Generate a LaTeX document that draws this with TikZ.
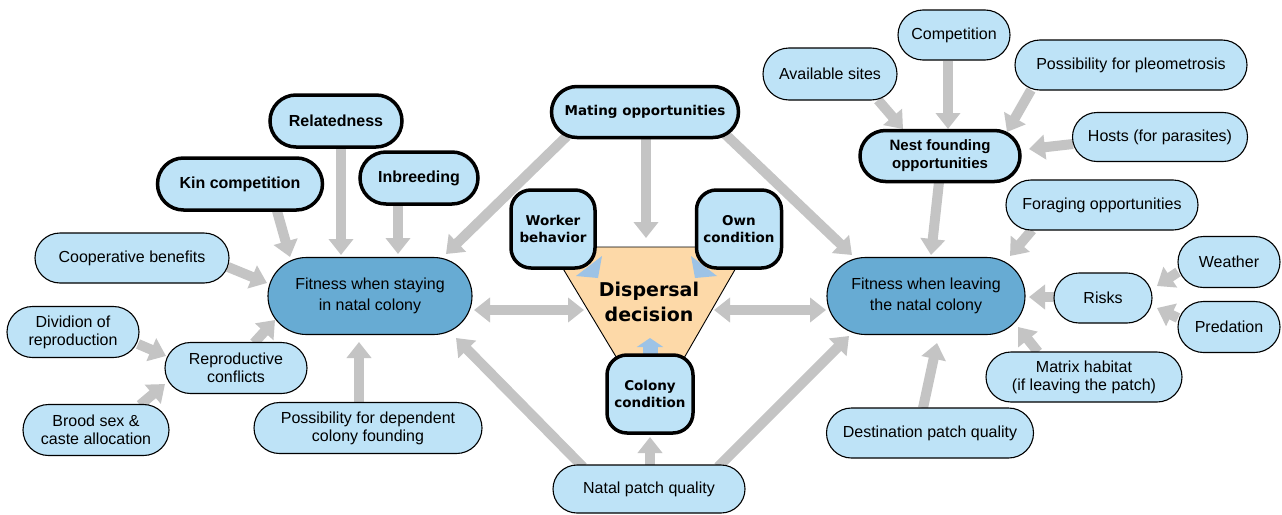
\documentclass[tikz,border=0pt]{standalone}
\usepackage{fontspec}
\setmainfont{Liberation Sans}
\newfontfamily\dejavu{DejaVu Sans}
\usetikzlibrary{shapes.misc,arrows.meta,calc}
\pgfdeclarelayer{bg}\pgfdeclarelayer{mid}\pgfsetlayers{bg,mid,main}
\definecolor{lb}{RGB}{190,227,247}
\definecolor{db}{RGB}{103,171,211}
\definecolor{org}{RGB}{253,217,168}
\definecolor{gr}{RGB}{196,196,196}
\definecolor{bl}{RGB}{157,195,230}
\begin{document}
\begin{tikzpicture}[x=1pt,y=-1pt,
  base/.style={rounded rectangle, draw=black, fill=lb, line width=1.1pt, inner sep=0pt, align=center, font=\fontsize{16}{18}\selectfont},
  bbox/.style={base, line width=3.5pt, font=\fontsize{16}{18}\selectfont\bfseries},
  mbox/.style={base, line width=3.5pt, font=\dejavu\bfseries\fontsize{13.5}{17}\selectfont},
  fitbox/.style={base, fill=db, font=\fontsize{16}{21}\selectfont},
  vbox/.style={rectangle, rounded corners=20pt, draw=black, fill=lb, line width=3.5pt, inner sep=0pt, align=center, font=\dejavu\bfseries\fontsize{13.5}{17}\selectfont},
  garrow/.style={draw=gr, line width=10pt, -{Triangle[width=24pt,length=16pt]}},
  gdouble/.style={draw=gr, line width=10pt, {Triangle[width=24pt,length=16pt]}-{Triangle[width=24pt,length=16pt]}},
  barrow/.style={draw=bl, line width=15pt, -{Triangle[width=26pt,length=9pt]}}
]
\useasboundingbox (0,0) rectangle (1282,514);
% left
\node[bbox, minimum width=132, minimum height=52] (rel) at (336,121) {Relatedness};
\node[bbox, minimum width=165, minimum height=52] (kin) at (240,184) {Kin competition};
\node[bbox, minimum width=118, minimum height=52] (inb) at (419,178) {Inbreeding};
\node[base, minimum width=194, minimum height=50] (coop) at (132,258) {Cooperative benefits};
\node[fitbox, minimum width=204, minimum height=77] (fitL) at (370,296) {Fitness when staying\\in natal colony};
\node[base, minimum width=132, minimum height=51] (div) at (73,332) {Dividion of\\reproduction};
\node[base, minimum width=142, minimum height=51] (rep) at (236,368) {Reproductive\\conflicts};
\node[base, minimum width=146, minimum height=51] (brood) at (96,430) {Brood sex \&\\caste allocation};
\node[base, minimum width=228, minimum height=51] (dep) at (368,428) {Possibility for dependent\\colony founding};
% centre
\node[mbox, minimum width=187, minimum height=51] (mat) at (645,112) {Mating opportunities};
\node[vbox, minimum width=84, minimum height=78] (work) at (553,229) {Worker\\behavior};
\node[vbox, minimum width=85, minimum height=78] (own) at (739,229) {Own\\condition};
\node[font=\dejavu\bfseries\fontsize{19}{25}\selectfont, align=center, inner sep=0pt] (disp) at (649,302) {Dispersal\\decision};
\node[vbox, minimum width=86, minimum height=78] (col) at (650,394) {Colony\\condition};
\node[base, minimum width=192, minimum height=48] (natal) at (649,489) {Natal patch quality};
% right
\node[base, minimum width=134, minimum height=52] (avail) at (830,74) {Available sites};
\node[base, minimum width=112, minimum height=50] (comp) at (954,35) {Competition};
\node[base, minimum width=232, minimum height=50] (pleo) at (1131,65) {Possibility for pleometrosis};
\node[bbox, minimum width=160, minimum height=51, font=\fontsize{15}{18}\selectfont\bfseries] (nest) at (940,156) {Nest founding\\opportunities};
\node[base, minimum width=175, minimum height=49] (hosts) at (1160,137) {Hosts (for parasites)};
\node[base, minimum width=192, minimum height=50] (forag) at (1102,205) {Foraging opportunities};
\node[fitbox, minimum width=198, minimum height=77] (fitR) at (926,296) {Fitness when leaving\\the natal colony};
\node[base, minimum width=98, minimum height=50] (risks) at (1103,298) {Risks};
\node[base, minimum width=102, minimum height=51] (weather) at (1229,262) {Weather};
\node[base, minimum width=102, minimum height=51] (pred) at (1229,327) {Predation};
\node[base, minimum width=196, minimum height=50] (matrix) at (1084,377) {Matrix habitat\\(if leaving the patch)};
\node[base, minimum width=207, minimum height=50] (dest) at (930,433) {Destination patch quality};

\begin{pgfonlayer}{bg}
\fill[white] (0,0) rectangle (1282,514);
\draw[garrow] ($(rel)+(5,26)$) -- ($(fitL)+(-29,-41)$);
\draw[garrow] ($(kin)+(37,27)$) -- ($(fitL)+(-80,-39)$);
\draw[garrow] ($(inb)+(-21,27)$) -- ($(fitL)+(28,-42)$);
\draw[garrow] ($(coop)+(96,9)$) -- ($(fitL)+(-103,-13)$);
\draw[garrow] ($(mat)+(-78,24)$) -- ($(fitL)+(76,-42)$);
\draw[garrow] ($(div)+(65,12)$) -- ($(rep)+(-70,-12)$);
\draw[garrow] ($(brood)+(44,-25)$) -- ($(rep)+(-71,16)$);
\draw[garrow] ($(rep)+(18,-25)$) -- ($(fitL)+(-95,24)$);
\draw[garrow] ($(dep)+(-9,-26)$) -- ($(fitL)+(-11,46)$);
\draw[garrow] ($(natal)+(-66,-22)$) -- ($(fitL)+(86,42)$);
\draw[gdouble] ($(fitL)+(104,14)$) -- ($(disp)+(-65,8)$);
\draw[gdouble] ($(disp)+(65,8)$) -- ($(fitR)+(-100,14)$);
\draw[garrow] ($(mat)+(1,26)$) -- ($(disp)+(-3,-64)$);
\draw[garrow] ($(mat)+(80,22)$) -- ($(fitR)+(-74,-41)$);
\draw[garrow] ($(natal)+(1,-24)$) -- ($(col)+(0,43)$);
\draw[garrow] ($(natal)+(69,-22)$) -- ($(fitR)+(-77,40)$);
\draw[garrow] ($(avail)+(48,26)$) -- ($(nest)+(-37,-27)$);
\draw[garrow] ($(comp)+(-6,26)$) -- ($(nest)+(8,-27)$);
\draw[garrow] ($(pleo)+(-100,25)$) -- ($(nest)+(67,-24)$);
\draw[garrow] ($(hosts)+(-87,7)$) -- ($(nest)+(89,-7)$);
\draw[garrow] ($(nest)+(-1,26)$) -- ($(fitR)+(5,-41)$);
\draw[garrow] ($(forag)+(-70,25)$) -- ($(fitR)+(84,-40)$);
\draw[garrow] ($(weather)+(-51,10)$) -- ($(risks)+(54,-12)$);
\draw[garrow] ($(pred)+(-51,-9)$) -- ($(risks)+(54,10)$);
\draw[garrow] ($(risks)+(-49,-1)$) -- ($(fitR)+(103,1)$);
\draw[garrow] ($(matrix)+(-46,-25)$) -- ($(fitR)+(92,31)$);
\draw[garrow] ($(dest)+(-7,-25)$) -- ($(fitR)+(11,47)$);
\end{pgfonlayer}

\begin{pgfonlayer}{mid}
\draw[fill=org, line width=0.9pt] (550,247) -- (748,247) -- (680,365) -- (621,365) -- cycle;
\fill[bl] ($(work)+(49,27)$) -- ($(work)+(23,47)$) -- ($(work)+(45,49)$) -- cycle;
\fill[bl] ($(own)+(-48,27)$) -- ($(own)+(-22,47)$) -- ($(own)+(-44,49)$) -- cycle;
\draw[barrow] ($(col)+(0,-30)$) -- ($(col)+(0,-56)$);
\end{pgfonlayer}
\end{tikzpicture}
\end{document}
